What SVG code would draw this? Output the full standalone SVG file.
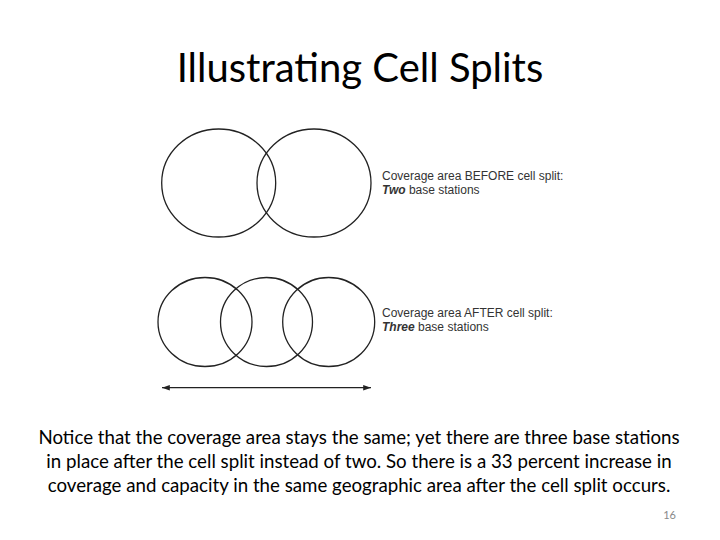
<svg xmlns="http://www.w3.org/2000/svg" width="720" height="540" viewBox="0 0 720 540">
<style>
.c{fill:none;stroke:#222;stroke-width:1.3}
.l{font-family:"Liberation Sans",Arial,sans-serif;font-size:12px;fill:#333}
.b{font-family:Lato,"Open Sans",sans-serif;fill:#000}
</style>
<defs><marker id="a" viewBox="0 0 10 10" refX="10" refY="5" markerWidth="8" markerHeight="6" orient="auto-start-reverse"><path d="M0,1.5 L10,5 L0,8.5 Z" fill="#222"/></marker></defs>
<rect width="720" height="540" fill="#fff"/>
<text class="b" x="360" y="82" font-size="40" text-anchor="middle">Illustrating Cell Splits</text>
<g id="before">
<ellipse class="c" cx="218.7" cy="183" rx="57" ry="54"/>
<ellipse class="c" cx="314" cy="183" rx="57" ry="54"/>
<text class="l" x="382" y="180">Coverage area BEFORE cell split:</text>
<text class="l" x="382" y="194"><tspan font-weight="bold" font-style="italic">Two</tspan> base stations</text>
</g>
<g id="after">
<ellipse class="c" cx="205" cy="322" rx="47" ry="44.5"/>
<ellipse class="c" cx="266.5" cy="322" rx="46" ry="44.5"/>
<ellipse class="c" cx="328.7" cy="322" rx="46" ry="44.5"/>
<text class="l" x="382" y="317">Coverage area AFTER cell split:</text>
<text class="l" x="382" y="331"><tspan font-weight="bold" font-style="italic">Three</tspan> base stations</text>
</g>
<g id="connectors">
<line x1="162" y1="387.7" x2="371" y2="387.7" stroke="#222" stroke-width="1.3" marker-start="url(#a)" marker-end="url(#a)"/>
</g>
<g class="b" font-size="18.7" text-anchor="middle">
<text x="359" y="444">Notice that the coverage area stays the same; yet there are three base stations</text>
<text x="359" y="468">in place after the cell split instead of two. So there is a 33 percent increase in</text>
<text x="359" y="492">coverage and capacity in the same geographic area after the cell split occurs.</text>
</g>
<text x="676" y="519" font-family="Lato,sans-serif" font-size="11" fill="#888" text-anchor="end">16</text>
</svg>
